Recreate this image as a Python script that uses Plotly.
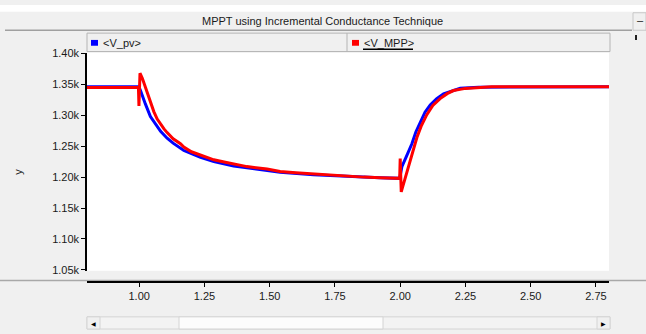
import plotly.graph_objects as go

W, H = 646, 334

# ---- data ----
t_mpp = [0.80, 0.997, 0.999, 1.003, 1.012, 1.024, 1.031, 1.043, 1.056, 1.069, 1.082, 1.095,
         1.107, 1.13, 1.158, 1.171, 1.20, 1.235, 1.286, 1.33, 1.362, 1.413, 1.49, 1.54,
         1.60, 1.668, 1.73, 1.796, 1.86, 1.923, 1.998, 2.000, 2.004, 2.010, 2.020, 2.038,
         2.050, 2.064, 2.080, 2.102, 2.125, 2.153, 2.180, 2.204, 2.25, 2.293, 2.35, 2.80]
v_mpp = [1345, 1345, 1315, 1368, 1360, 1345, 1337, 1322, 1306, 1294, 1285, 1278,
         1272, 1262, 1254, 1248.5, 1241, 1235.5, 1228, 1224, 1221, 1217, 1213, 1209,
         1207, 1205, 1203, 1201.5, 1200, 1199, 1198, 1230, 1176, 1185, 1200, 1228,
         1246, 1264, 1282, 1301, 1316, 1327, 1335, 1340, 1343.5, 1345, 1346, 1346]

t_pv = [0.80, 0.999, 1.005, 1.012, 1.024, 1.043, 1.056, 1.069, 1.082, 1.107, 1.13,
        1.171, 1.235, 1.286, 1.362, 1.413, 1.49, 1.54, 1.668, 1.796, 1.923, 1.998,
        2.004, 2.0065, 2.0256, 2.0448, 2.06, 2.077, 2.095, 2.115, 2.14, 2.166, 2.20,
        2.23, 2.30, 2.80]
v_pv = [1346, 1346, 1340, 1333, 1318, 1298, 1290, 1280, 1274, 1263, 1255,
        1243, 1232, 1225, 1218, 1215, 1211, 1208, 1204, 1201, 1199, 1198,
        1210, 1217, 1235, 1254, 1273, 1290, 1305, 1316.5, 1327, 1334.7, 1340,
        1343.6, 1345.5, 1346]

y_ticks = [1050, 1100, 1150, 1200, 1250, 1300, 1350, 1400]
y_labels = ["1.05k", "1.10k", "1.15k", "1.20k", "1.25k", "1.30k", "1.35k", "1.40k"]
x_ticks = [1.00, 1.25, 1.50, 1.75, 2.00, 2.25, 2.50, 2.75]
x_labels = ["1.00", "1.25", "1.50", "1.75", "2.00", "2.25", "2.50", "2.75"]

title_text = "MPPT using Incremental Conductance Technique"
FONT = "Liberation Sans"


def px(x):
    return x / W


def py(y):
    return 1 - y / H


fig = go.Figure()
fig.add_trace(go.Scatter(x=t_pv, y=v_pv, mode="lines", name="<V_pv>",
                         line=dict(color="#0000ff", width=3), hoverinfo="skip"))
fig.add_trace(go.Scatter(x=t_mpp, y=v_mpp, mode="lines", name="<V_MPP>",
                         line=dict(color="#ff0000", width=3), hoverinfo="skip"))
# register the lower time axis
fig.add_trace(go.Scatter(x=[], y=[], xaxis="x2", yaxis="y", showlegend=False,
                         hoverinfo="skip"))

xdom = [px(87), px(609)]
xr = [0.8, 2.8]

shapes = []


def rect(x0, y0, x1, y1, fill, line="rgba(0,0,0,0)", lw=0, layer="below"):
    shapes.append(dict(type="rect", xref="paper", yref="paper",
                       x0=px(x0), x1=px(x1), y0=py(y1), y1=py(y0),
                       fillcolor=fill, line=dict(color=line, width=lw), layer=layer))


def hline(x0, x1, y, color, lw=1, layer="below"):
    shapes.append(dict(type="line", xref="paper", yref="paper",
                       x0=px(x0), x1=px(x1), y0=py(y), y1=py(y),
                       line=dict(color=color, width=lw), layer=layer))


def vline(x, y0, y1, color, lw=1, layer="below"):
    shapes.append(dict(type="line", xref="paper", yref="paper",
                       x0=px(x), x1=px(x), y0=py(y0), y1=py(y1),
                       line=dict(color=color, width=lw), layer=layer))


# top white strip
rect(0, 0, W, 7, "white")
# title bar separator
hline(5, 632, 26, "#a0a0a0", 1.5)
# minimise button
rect(633, 8, 646, 26, "#f0f0f0", "#c8c8c8", 1)
# legend bar
rect(87, 29, 610, 48, "#f0f0f0", "#b4b4b4", 1)
vline(347, 29, 48, "#b4b4b4", 1)
rect(91, 36, 98, 42, "#0000ff", layer="above")
rect(352, 36, 359, 42, "#ff0000", layer="above")
hline(363, 413, 45.5, "black", 1.5, layer="above")
# small marker at right
rect(635, 31, 637, 36, "#202020", layer="above")
# x axis separator
hline(0, W, 284, "#a8a8a8", 1.5)
# scrollbar
rect(87, 321.5, 610, 334, "#f3f3f3", "#d4d4d4", 1)
rect(179, 321.5, 383, 334, "#fcfcfc", "#d4d4d4", 1)
rect(87, 321.5, 100, 334, "#f0f0f0", "#d4d4d4", 1)
rect(597, 321.5, 610, 334, "#f0f0f0", "#d4d4d4", 1)

annotations = [
    dict(text=title_text, x=px(322), y=py(17), xref="paper", yref="paper",
         showarrow=False, xanchor="center", yanchor="middle",
         font=dict(family=FONT, size=11, color="#1a1a1a")),
    dict(text="–", x=px(640), y=py(15), xref="paper", yref="paper",
         showarrow=False, xanchor="center", yanchor="middle",
         font=dict(family=FONT, size=11, color="#1a1a1a")),
    dict(text="<V_pv>", x=px(101), y=py(39), xref="paper", yref="paper",
         showarrow=False, xanchor="left", yanchor="middle",
         font=dict(family=FONT, size=11, color="#1a1a1a")),
    dict(text="<V_MPP>", x=px(362), y=py(39), xref="paper", yref="paper",
         showarrow=False, xanchor="left", yanchor="middle",
         font=dict(family=FONT, size=11, color="#1a1a1a")),
    dict(text="y", x=px(18), y=py(172), xref="paper", yref="paper",
         showarrow=False, xanchor="center", yanchor="middle", textangle=-90,
         font=dict(family=FONT, size=11, color="#1a1a1a")),
    dict(text="◀", x=px(93.5), y=py(328), xref="paper", yref="paper",
         showarrow=False, xanchor="center", yanchor="middle",
         font=dict(family="DejaVu Sans", size=6, color="#000000")),
    dict(text="▶", x=px(603.5), y=py(328), xref="paper", yref="paper",
         showarrow=False, xanchor="center", yanchor="middle",
         font=dict(family="DejaVu Sans", size=6, color="#000000")),
]

fig.update_layout(
    width=W, height=H,
    margin=dict(l=0, r=0, t=0, b=0),
    paper_bgcolor="#f0f0f0",
    plot_bgcolor="white",
    showlegend=False,
    shapes=shapes,
    annotations=annotations,
    xaxis=dict(domain=xdom, range=xr, showgrid=False, zeroline=False,
               showline=False, showticklabels=False, ticks="", fixedrange=True),
    xaxis2=dict(domain=xdom, range=xr, overlaying="x", anchor="free",
                position=py(286), side="bottom", showgrid=False, zeroline=False,
                showline=True, linecolor="black", linewidth=1.5,
                ticks="outside", ticklen=4, tickcolor="black",
                tickvals=x_ticks, ticktext=x_labels,
                tickfont=dict(family=FONT, size=11, color="#1a1a1a")),
    yaxis=dict(domain=[py(274), py(49)], range=[1048.5, 1401.5],
               showgrid=False, zeroline=False, showline=True, linecolor="black",
               linewidth=1.5, ticks="outside", ticklen=4, tickcolor="black",
               tickvals=y_ticks, ticktext=y_labels,
               tickfont=dict(family=FONT, size=11, color="#1a1a1a")),
)

fig.write_html("out.html")
